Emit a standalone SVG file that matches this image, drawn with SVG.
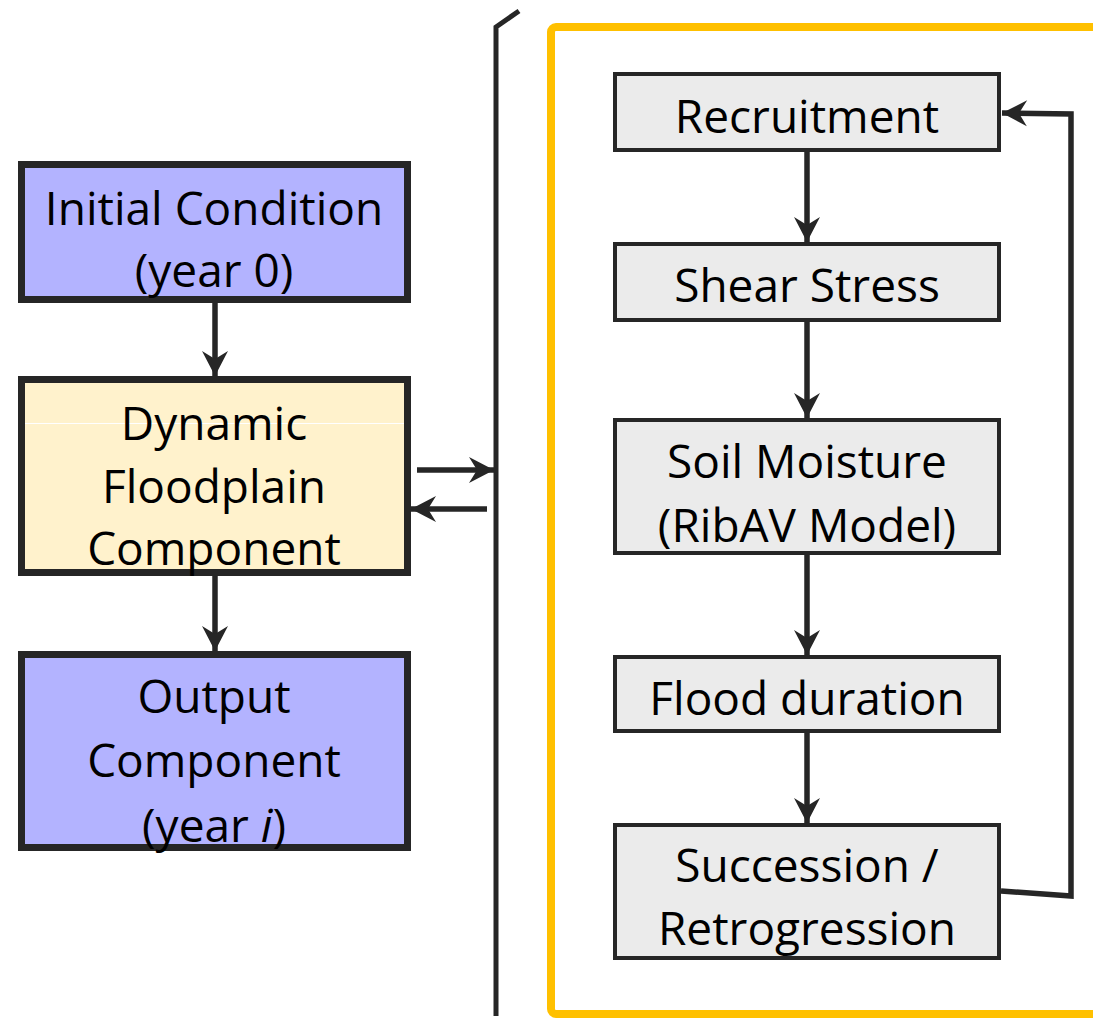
<svg xmlns="http://www.w3.org/2000/svg" width="1093" height="1019" viewBox="0 0 1093 1019">
<style>
.t{font-family:"Open Sans","Noto Sans",sans-serif;font-size:46px;fill:#000;text-anchor:middle}
.lb{stroke:#262626;stroke-width:7;}
.rb{fill:#EBEBEB;stroke:#262626;stroke-width:4;}
.c{fill:none;stroke:#262626;stroke-width:5.5;}
</style>
<defs>
<marker id="ah" markerUnits="userSpaceOnUse" markerWidth="30" markerHeight="30" viewBox="-26 -15 30 30" refX="0" refY="0" orient="auto">
<path d="M0,0 L-25,-13 L-17,0 L-25,13 Z" fill="#262626"/>
</marker>
</defs>
<rect x="0" y="0" width="1093" height="1019" fill="#fff"/>
<g id="frame">
<rect x="551" y="27" width="600" height="987" rx="5" fill="none" stroke="#FFC000" stroke-width="8"/>
<path d="M496,1016 V27 L519,11" fill="none" stroke="#262626" stroke-width="5"/>
</g>
<g id="initial">
<rect class="lb" x="21.5" y="164.5" width="386" height="135" fill="#B3B3FF"/>
<text class="t" x="214" y="225">Initial Condition</text>
<text class="t" x="214" y="287">(year 0)</text>
</g>
<g id="dynamic">
<rect class="lb" x="21.5" y="379.5" width="386" height="193" fill="#FFF2CC"/>
<line x1="25" y1="423.5" x2="404" y2="423.5" stroke="#fff" stroke-width="1"/>
<text class="t" x="214" y="440">Dynamic</text>
<text class="t" x="214" y="503">Floodplain</text>
<text class="t" x="214" y="565">Component</text>
</g>
<g id="output">
<rect class="lb" x="21.5" y="654.5" width="386" height="193" fill="#B3B3FF"/>
<text class="t" x="214" y="713">Output</text>
<text class="t" x="214" y="777">Component</text>
<text class="t" x="214" y="842">(year <tspan font-style="italic">i</tspan>)</text>
</g>
<g id="recruitment">
<rect class="rb" x="615" y="74" width="384" height="76"/>
<text class="t" x="807" y="133">Recruitment</text>
</g>
<g id="shear">
<rect class="rb" x="615" y="244" width="384" height="76"/>
<text class="t" x="807" y="302">Shear Stress</text>
</g>
<g id="soil">
<rect class="rb" x="615" y="420" width="384" height="133"/>
<text class="t" x="807" y="478">Soil Moisture</text>
<text class="t" x="807" y="542">(RibAV Model)</text>
</g>
<g id="flood">
<rect class="rb" x="615" y="657" width="384" height="74"/>
<text class="t" x="807" y="715">Flood duration</text>
</g>
<g id="succession">
<rect class="rb" x="615" y="825" width="384" height="133"/>
<text class="t" x="807" y="882">Succession /</text>
<text class="t" x="807" y="945">Retrogression</text>
</g>
<g id="connectors">
<line class="c" x1="215" y1="303" x2="215" y2="376" marker-end="url(#ah)"/>
<line class="c" x1="215" y1="576" x2="215" y2="651" marker-end="url(#ah)"/>
<line class="c" x1="417" y1="470" x2="494" y2="470" marker-end="url(#ah)"/>
<line class="c" x1="487" y1="509" x2="411" y2="509" marker-end="url(#ah)"/>
<line class="c" x1="807" y1="152" x2="807" y2="242" marker-end="url(#ah)"/>
<line class="c" x1="807" y1="322" x2="807" y2="418" marker-end="url(#ah)"/>
<line class="c" x1="807" y1="555" x2="807" y2="655" marker-end="url(#ah)"/>
<line class="c" x1="807" y1="733" x2="807" y2="823" marker-end="url(#ah)"/>
<polyline class="c" points="1001,891 1071,896 1071,114 1002,113" marker-end="url(#ah)"/>
</g>
</svg>
